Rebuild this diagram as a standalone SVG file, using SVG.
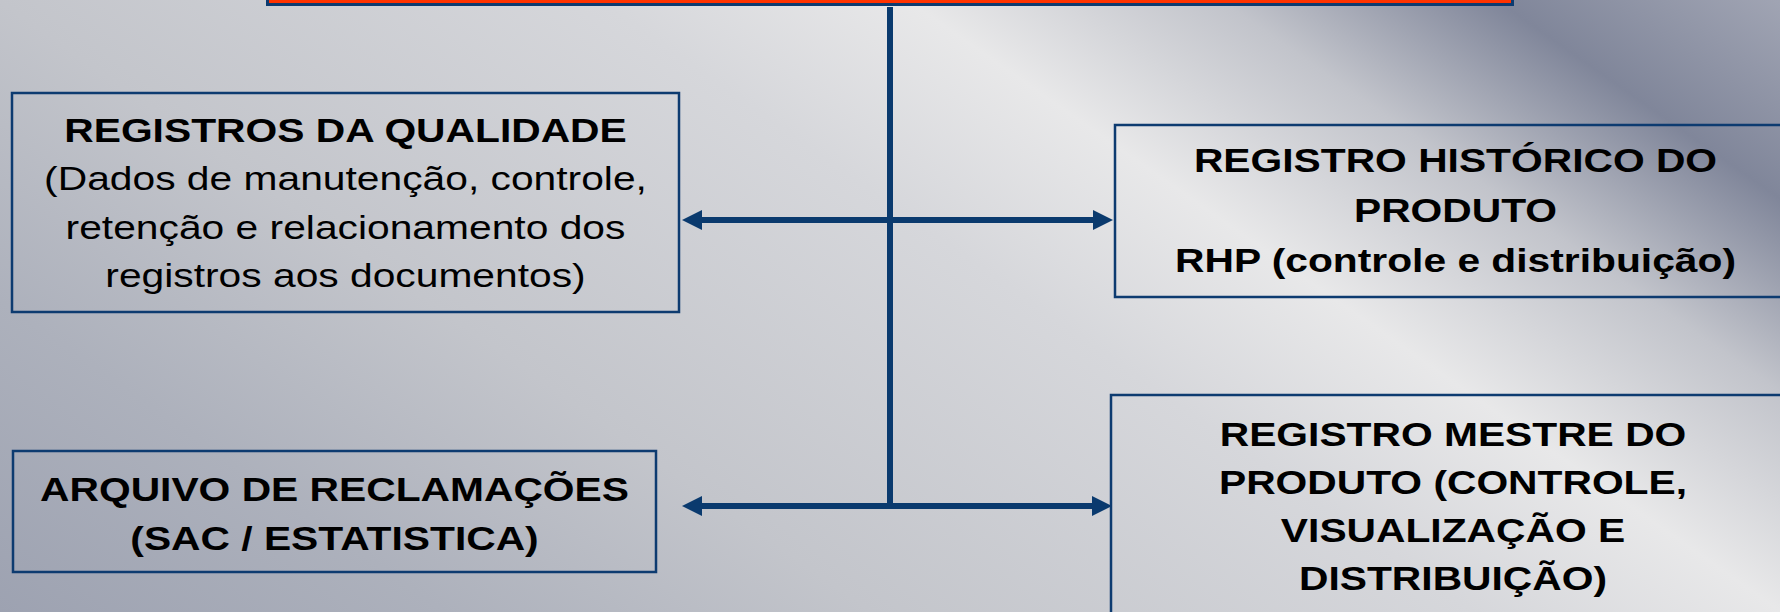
<svg xmlns="http://www.w3.org/2000/svg" width="1780" height="612" viewBox="0 0 1780 612">
  <defs>
    <linearGradient id="bg" gradientUnits="userSpaceOnUse" x1="0" y1="612" x2="871.5" y2="-633.7">
      <stop offset="0" stop-color="#9da2b1"/>
      <stop offset="0.168" stop-color="#adb1bc"/>
      <stop offset="0.329" stop-color="#c3c5cb"/>
      <stop offset="0.556" stop-color="#d6d7db"/>
      <stop offset="0.672" stop-color="#e8e8e9"/>
      <stop offset="0.79" stop-color="#c2c4cb"/>
      <stop offset="0.894" stop-color="#80869a"/>
      <stop offset="1" stop-color="#a0a4b3"/>
    </linearGradient>
    <marker id="arrow" markerUnits="userSpaceOnUse" markerWidth="20" markerHeight="20" refX="10" refY="10" orient="auto-start-reverse" viewBox="0 0 20 20">
      <path d="M0,0 L20,10 L0,20 Z" fill="#0a3a6e"/>
    </marker>
    <style>
      .box { fill: none; stroke: #0d3b70; stroke-width: 2.5; }
      .t { font-family: "Liberation Sans", Arial, sans-serif; font-size: 33px; fill: #000; text-anchor: middle; }
      .b { font-weight: bold; }
      .conn { stroke: #0a3a6e; stroke-width: 6; fill: none; }
    </style>
  </defs>

  <rect x="0" y="0" width="1780" height="612" fill="url(#bg)"/>

  <g id="connectors">
    <line class="conn" x1="890" y1="7" x2="890" y2="506"/>
    <line class="conn" x1="692" y1="220" x2="1103" y2="220" marker-start="url(#arrow)" marker-end="url(#arrow)"/>
    <line class="conn" x1="692" y1="506" x2="1102" y2="506" marker-start="url(#arrow)" marker-end="url(#arrow)"/>
  </g>

  <g id="node-top">
    <rect x="267.5" y="-10" width="1245" height="14.5" fill="#ff3300" stroke="#0d3b70" stroke-width="3"/>
  </g>

  <g id="node-registros-qualidade">
    <rect class="box" x="12" y="93" width="667" height="219"/>
    <g transform="translate(345.5 0) scale(1.236 1)">
      <text class="t b" x="0" y="142">REGISTROS DA QUALIDADE</text>
      <text class="t" x="0" y="190.5">(Dados de manutenção, controle,</text>
      <text class="t" x="0" y="239">retenção e relacionamento dos</text>
      <text class="t" x="0" y="287.5">registros aos documentos)</text>
    </g>
  </g>

  <g id="node-registro-historico">
    <rect class="box" x="1115" y="125" width="682" height="172"/>
    <g transform="translate(1455.5 0) scale(1.236 1)">
      <text class="t b" x="0" y="172">REGISTRO HISTÓRICO DO</text>
      <text class="t b" x="0" y="222">PRODUTO</text>
      <text class="t b" x="0" y="272">RHP (controle e distribuição)</text>
    </g>
  </g>

  <g id="node-arquivo-reclamacoes">
    <rect class="box" x="13" y="451" width="643" height="121"/>
    <g transform="translate(334.5 0) scale(1.236 1)">
      <text class="t b" x="0" y="501.5">ARQUIVO DE RECLAMAÇÕES</text>
      <text class="t b" x="0" y="550">(SAC / ESTATISTICA)</text>
    </g>
  </g>

  <g id="node-registro-mestre">
    <rect class="box" x="1111" y="395" width="686" height="240"/>
    <g transform="translate(1453 0) scale(1.236 1)">
      <text class="t b" x="0" y="446">REGISTRO MESTRE DO</text>
      <text class="t b" x="0" y="494">PRODUTO (CONTROLE,</text>
      <text class="t b" x="0" y="542">VISUALIZAÇÃO E</text>
      <text class="t b" x="0" y="590">DISTRIBUIÇÃO)</text>
    </g>
  </g>
</svg>
